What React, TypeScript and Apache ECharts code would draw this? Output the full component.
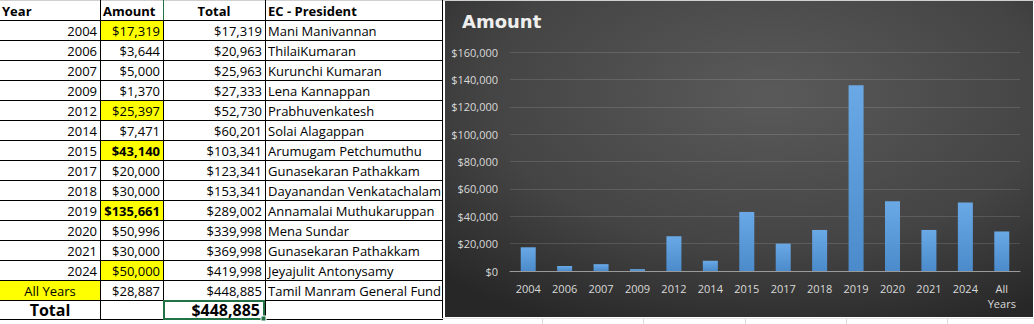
import { useEffect, useRef } from "react";
import * as echarts from "echarts";

// ---------- data ----------
const chartCategories = ["2004", "2006", "2007", "2009", "2012", "2014", "2015", "2017", "2018", "2019", "2020", "2021", "2024", "All\nYears"];
const tableYears = ["2004", "2006", "2007", "2009", "2012", "2014", "2015", "2017", "2018", "2019", "2020", "2021", "2024", "All Years"];
const amounts = [17319, 3644, 5000, 1370, 25397, 7471, 43140, 20000, 30000, 135661, 50996, 30000, 50000, 28887];
const runningTotals = [17319, 20963, 25963, 27333, 52730, 60201, 103341, 123341, 153341, 289002, 339998, 369998, 419998, 448885];
const presidents = [
  "Mani Manivannan",
  "ThilaiKumaran",
  "Kurunchi Kumaran",
  "Lena Kannappan",
  "Prabhuvenkatesh",
  "Solai Alagappan",
  "Arumugam Petchumuthu",
  "Gunasekaran Pathakkam",
  "Dayanandan Venkatachalam",
  "Annamalai Muthukaruppan",
  "Mena Sundar",
  "Gunasekaran Pathakkam",
  "Jeyajulit Antonysamy",
  "Tamil Manram General Fund",
];
const highlightedAmount = [true, false, false, false, true, false, true, false, false, true, false, false, true, false];
const boldAmount = [false, false, false, false, false, false, true, false, false, true, false, false, false, false];
const headers = ["Year", "Amount", "Total", "EC - President"];
const totalLabel = "Total";
const grandTotal = 448885;
const chartTitle = "Amount";
const yMin = 0;
const yMax = 160000;
const yInterval = 20000;

const money = (v: number) => "$" + v.toLocaleString("en-US");

const FONT = "'Open Sans', 'Liberation Sans', sans-serif";

function buildTable(): any[] {
  const els: any[] = [];
  const colX = [100, 163, 265, 442];
  const rowH = 20;
  const top = 20;
  const nRows = tableYears.length;
  const txt = (text: string, x: number, y: number, align: string, opts: any = {}) => ({
    type: "text",
    x,
    y,
    silent: true,
    style: {
      text,
      fill: opts.fill || "#000000",
      fontSize: opts.fontSize || 13,
      fontWeight: opts.fontWeight || "normal",
      fontFamily: FONT,
      align,
      verticalAlign: "middle",
      textAlign: align,
      textVerticalAlign: "middle",
    },
  });
  // yellow fills
  tableYears.forEach((_, i) => {
    if (highlightedAmount[i]) {
      els.push({ type: "rect", shape: { x: 101, y: top + i * rowH + 1, width: 62, height: 19 }, style: { fill: "#ffff00" }, silent: true });
    }
  });
  els.push({ type: "rect", shape: { x: 0, y: top + (nRows - 1) * rowH + 1, width: 100, height: 19 }, style: { fill: "#ffff00" }, silent: true });
  // top light line
  els.push({ type: "rect", shape: { x: 0, y: 0, width: 1034, height: 1 }, style: { fill: "#d0d0d0" }, silent: true });
  // horizontal lines
  for (let r = 1; r <= nRows + 2; r++) {
    const y = r * rowH + 0.5 - (r === nRows + 2 ? 1 : 0);
    els.push({ type: "line", shape: { x1: 0, y1: y, x2: 442, y2: y }, style: { stroke: "#000000", lineWidth: 1 }, silent: true });
  }
  // vertical lines
  colX.forEach((x) => {
    els.push({ type: "line", shape: { x1: x + 0.5, y1: 0, x2: x + 0.5, y2: 320 }, style: { stroke: "#000000", lineWidth: 1 }, silent: true });
  });
  // green column mark in header
  els.push({ type: "line", shape: { x1: 163.5, y1: 0, x2: 163.5, y2: 20 }, style: { stroke: "#217346", lineWidth: 1 }, silent: true });
  // headers
  els.push(txt(headers[0], 2, 11, "left", { fontWeight: "bold" }));
  els.push(txt(headers[1], 103, 11, "left", { fontWeight: "bold" }));
  els.push(txt(headers[2], 214, 11, "center", { fontWeight: "bold" }));
  els.push(txt(headers[3], 268, 11, "left", { fontWeight: "bold" }));
  // rows
  tableYears.forEach((yr, i) => {
    const cy = top + i * rowH + 11;
    if (i === nRows - 1) els.push(txt(yr, 50, cy, "center"));
    else els.push(txt(yr, 97, cy, "right"));
    els.push(txt(money(amounts[i]), 160, cy, "right", { fontWeight: boldAmount[i] ? "bold" : "normal" }));
    els.push(txt(money(runningTotals[i]), 262, cy, "right"));
    els.push(txt(presidents[i], 268, cy, "left"));
  });
  // total row
  const ty = top + nRows * rowH + 10;
  els.push(txt(totalLabel, 50, ty, "center", { fontWeight: "bold", fontSize: 16 }));
  els.push(txt(money(grandTotal), 260, ty, "right", { fontWeight: "bold", fontSize: 16 }));
  els.push({ type: "rect", shape: { x: 164, y: 301, width: 100, height: 18 }, style: { fill: "none", stroke: "#217346", lineWidth: 2 }, silent: true });
  els.push({ type: "rect", shape: { x: 261, y: 316, width: 5, height: 5 }, style: { fill: "#217346", stroke: "#ffffff", lineWidth: 1 }, silent: true });
  // excel gridlines below chart
  [542, 643, 745, 846, 947].forEach((x) => {
    els.push({ type: "line", shape: { x1: x + 0.5, y1: 318, x2: x + 0.5, y2: 324 }, style: { stroke: "#d9d9d9", lineWidth: 1 }, silent: true });
  });
  els.push({ type: "line", shape: { x1: 442, y1: 318.5, x2: 1034, y2: 318.5 }, style: { stroke: "#e3e3e3", lineWidth: 1 }, silent: true });
  // chart panel
  els.push({
    type: "rect",
    z: -10,
    shape: { x: 445, y: 1, width: 588, height: 316 },
    style: {
      fill: new echarts.graphic.RadialGradient(0.55, 0.3, 0.8, [
        { offset: 0, color: "#5a5a5a" },
        { offset: 0.6, color: "#444444" },
        { offset: 1, color: "#272727" },
      ]),
    },
    silent: true,
  });
  return els;
}

export default function App() {
  const ref = useRef<HTMLDivElement>(null);
  useEffect(() => {
    document.body.style.margin = "0";
    if (!ref.current) return;
    const chart = echarts.init(ref.current, undefined, { renderer: "svg" });
    chart.setOption({
      animation: false,
      backgroundColor: "#ffffff",
      title: {
        text: chartTitle,
        left: 457,
        top: 7,
        textStyle: { color: "#eeeeee", fontSize: 18, fontWeight: "bold", fontFamily: "'DejaVu Sans', sans-serif" },
      },
      graphic: { elements: buildTable() },
      grid: { left: 510, right: 14, top: 52, bottom: 53, containLabel: false },
      xAxis: {
        type: "category",
        data: chartCategories,
        axisLine: { lineStyle: { color: "#9a9a9a", width: 1 } },
        axisTick: { show: false },
        axisLabel: { color: "#d9d9d9", fontSize: 11, fontFamily: FONT, margin: 10, interval: 0, lineHeight: 15 },
      },
      yAxis: {
        type: "value",
        min: yMin,
        max: yMax,
        interval: yInterval,
        axisLine: { show: false },
        axisTick: { show: false },
        splitLine: { lineStyle: { color: "rgba(255,255,255,0.13)", width: 1 } },
        axisLabel: { color: "#d9d9d9", fontSize: 11, fontFamily: FONT, margin: 12, formatter: (v: number) => money(v) },
      },
      series: [
        {
          type: "bar",
          data: amounts,
          barWidth: 15,
          itemStyle: {
            color: new echarts.graphic.LinearGradient(0, 0, 0, 1, [
              { offset: 0, color: "#6aa9e6" },
              { offset: 1, color: "#4b8bcb" },
            ]),
          },
        },
      ],
    });
    return () => chart.dispose();
  }, []);
  return <div ref={ref} style={{ width: 1034, height: 324 }} />;
}
